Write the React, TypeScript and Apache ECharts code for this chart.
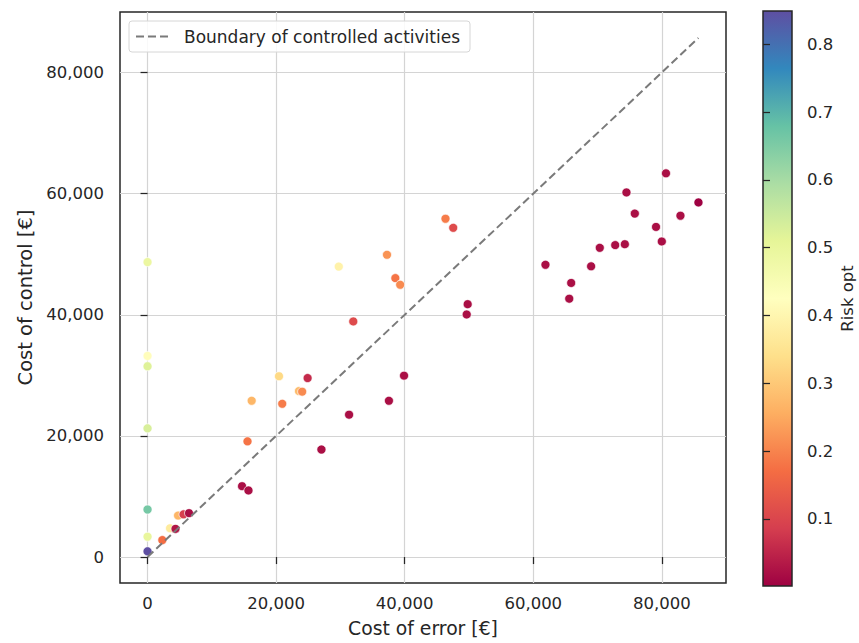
import React, { useEffect, useRef } from "react";
import * as echarts from "echarts";

// ---- data ----
const costOfError = [
  0, 0, 0, 0, 0, 0, 0,
  2300, 3500, 4350, 4750, 5600, 6450,
  14700, 15700, 15550, 16200, 20450, 20950, 23550, 24050, 24900, 27050,
  32000, 31350, 37550, 39900, 29750, 37250, 38550, 39300, 46350, 47550,
  49800, 49650, 61900, 65900, 65600, 69000, 70350, 72750, 74250, 75800,
  79100, 80000, 82900, 85700, 74500, 80650,
];
const costOfControl = [
  48700, 33200, 31500, 21250, 7850, 3350, 950,
  2800, 4750, 4650, 6850, 7050, 7250,
  11700, 11000, 19100, 25800, 29850, 25300, 27400, 27300, 29550, 17750,
  38900, 23500, 25800, 29950, 47950, 49900, 46050, 44950, 55850, 54350,
  41750, 40050, 48250, 45250, 42650, 48000, 51050, 51500, 51650, 56700,
  54500, 52100, 56350, 58550, 60200, 63350,
];
const riskOpt = [
  0.49, 0.42, 0.52, 0.53, 0.66, 0.5, 0.849,
  0.17, 0.37, 0.03, 0.27, 0.09, 0.02,
  0.02, 0.02, 0.18, 0.27, 0.33, 0.19, 0.28, 0.21, 0.06, 0.02,
  0.11, 0.02, 0.02, 0.02, 0.39, 0.22, 0.18, 0.21, 0.19, 0.11,
  0.02, 0.02, 0.02, 0.02, 0.02, 0.02, 0.02, 0.02, 0.02, 0.02,
  0.02, 0.02, 0.02, 0.001, 0.02, 0.02,
];
const boundaryX = [0, 85700];
const boundaryY = [0, 85700];
const xTicks = [0, 20000, 40000, 60000, 80000];
const yTicks = [0, 20000, 40000, 60000, 80000];
const riskTicks = [0.1, 0.2, 0.3, 0.4, 0.5, 0.6, 0.7, 0.8];
const spectral = [
  "#9e0142", "#d53e4f", "#f46d43", "#fdae61", "#fee08b", "#ffffbf",
  "#e6f598", "#abdda4", "#66c2a5", "#3288bd", "#5e4fa2",
];

const FONT = "DejaVu Sans";
const TEXT = "#262626";

export default function App() {
  const ref = useRef<HTMLDivElement>(null);

  useEffect(() => {
    if (!ref.current) return;
    const chart = echarts.init(ref.current, undefined, { renderer: "svg" });

    const dataMax = Math.max(...costOfError, ...boundaryX);
    const pad = dataMax * 0.05;
    const axMin = -pad;
    const axMax = dataMax + pad;
    const rMin = Math.min(...riskOpt);
    const rMax = Math.max(...riskOpt);

    const points = costOfError.map((x, i) => [x, costOfControl[i], riskOpt[i]]);
    const lineData = boundaryX.map((x, i) => [x, boundaryY[i]]);

    const gradient = new echarts.graphic.LinearGradient(
      0, 1, 0, 0,
      spectral.map((c, i) => ({ offset: i / (spectral.length - 1), color: c }))
    );

    const fmt = (v: number) => Math.round(v).toLocaleString("en-US");
    const tickStyle = { color: TEXT, width: 1.25 };

    chart.setOption({
      animation: false,
      backgroundColor: "#ffffff",
      textStyle: { fontFamily: FONT, color: TEXT },
      grid: [
        {
          left: 120, right: 133, top: 12, bottom: 56,
          show: true, borderColor: TEXT, borderWidth: 1.5,
          backgroundColor: "transparent",
        },
        {
          left: 763, width: 29, top: 11, height: 575,
          show: true, borderColor: TEXT, borderWidth: 1.5,
          backgroundColor: gradient,
        },
      ],
      legend: {
        show: true,
        data: ["Boundary of controlled activities"],
        left: 129, top: 21,
        orient: "horizontal",
        padding: [7, 10, 7, 6],
        itemWidth: 35, itemHeight: 2,
        itemStyle: { opacity: 0 },
        backgroundColor: "rgba(255,255,255,0.85)",
        borderColor: "#d6d6d6", borderWidth: 1, borderRadius: 3,
        textStyle: { fontFamily: FONT, fontSize: 17, color: TEXT, padding: [0, 0, 0, 8] },
      },
      xAxis: [
        {
          type: "value", gridIndex: 0, min: axMin, max: axMax,
          name: "Cost of error [€]", nameLocation: "middle", nameGap: 36,
          nameTextStyle: { fontFamily: FONT, fontSize: 18.8, color: TEXT },
          axisLine: { show: false },
          axisTick: { show: true, length: 7, lineStyle: tickStyle, customValues: xTicks },
          axisLabel: { customValues: xTicks, formatter: fmt, fontFamily: FONT, fontSize: 16.5, color: TEXT, margin: 12 },
          splitLine: { show: true, lineStyle: { color: "#d4d4d4", width: 1.2 } },
        },
        { type: "value", gridIndex: 1, show: false, min: 0, max: 1 },
      ],
      yAxis: [
        {
          type: "value", gridIndex: 0, min: axMin, max: axMax,
          name: "Cost of control [€]", nameLocation: "middle", nameGap: 81, nameRotate: 90,
          nameTextStyle: { fontFamily: FONT, fontSize: 19.5, color: TEXT },
          axisLine: { show: false },
          axisTick: { show: true, length: 7, lineStyle: tickStyle, customValues: yTicks },
          axisLabel: { customValues: yTicks, formatter: fmt, fontFamily: FONT, fontSize: 16.5, color: TEXT, margin: 16 },
          splitLine: { show: true, lineStyle: { color: "#d4d4d4", width: 1.2 } },
        },
        {
          type: "value", gridIndex: 1, position: "right", min: rMin, max: rMax,
          name: "Risk opt", nameLocation: "middle", nameGap: 47, nameRotate: 90,
          nameTextStyle: { fontFamily: FONT, fontSize: 16.5, color: TEXT },
          axisLine: { show: false },
          axisTick: { show: true, length: 7, lineStyle: tickStyle, customValues: riskTicks },
          axisLabel: { customValues: riskTicks, formatter: (v: number) => v.toFixed(1), fontFamily: FONT, fontSize: 16.5, color: TEXT, margin: 15 },
          splitLine: { show: false },
        },
      ],
      visualMap: {
        type: "continuous", show: false, seriesIndex: 0, dimension: 2,
        min: rMin, max: rMax,
        inRange: { color: spectral },
      },
      series: [
        {
          type: "scatter", xAxisIndex: 0, yAxisIndex: 0,
          data: points, symbolSize: 9,
          itemStyle: { borderColor: "#ffffff", borderWidth: 0.7, opacity: 1 },
          z: 3,
        },
        {
          type: "line", name: "Boundary of controlled activities",
          xAxisIndex: 0, yAxisIndex: 0, data: lineData,
          symbol: "none", silent: true,
          lineStyle: { color: "#7a7a7a", width: 2, type: [8, 4] },
          itemStyle: { color: "#7a7a7a" },
          z: 4,
        },
      ],
    });

    return () => chart.dispose();
  }, []);

  return (
    <div
      ref={ref}
      style={{ position: "absolute", left: 0, top: 0, width: 859, height: 643 }}
    />
  );
}
